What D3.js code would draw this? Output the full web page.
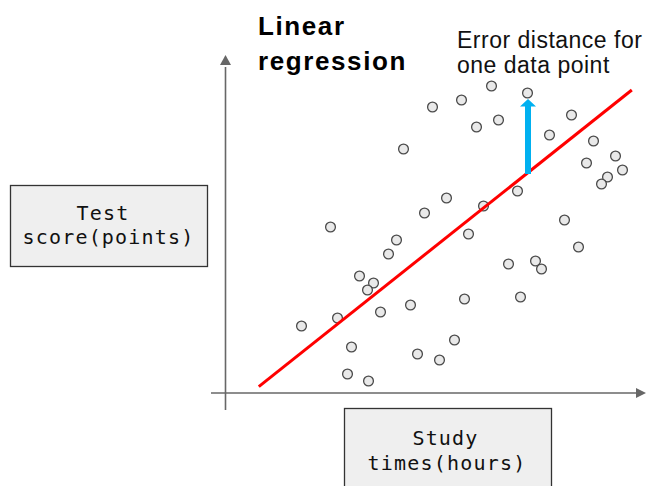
<!DOCTYPE html>
<html>
<head>
<meta charset="utf-8">
<script src="https://cdn.jsdelivr.net/npm/d3@7"></script>
<style>
  html, body { margin: 0; padding: 0; background: #fff; }
  svg { display: block; }
</style>
</head>
<body>
<svg id="chart" width="646" height="486"></svg>
<script>
// ---- data (study hours vs test score, arbitrary units) ----
const studyHours = [26.6, 30.2, 23.6, 20.7, 27.3, 25.1, 34.6, 32.4, 36.8, 17.8,
  39.0, 36.1, 39.7, 38.2, 37.6, 29.2, 22.1, 19.9, 25.8, 10.5,
  17.1, 16.3, 24.3, 33.9, 35.3, 28.3, 31.0, 31.6, 13.4, 14.8,
  14.2, 23.9, 29.5, 18.5, 15.5, 11.2, 7.6, 12.6, 22.9, 19.2,
  21.4, 12.2, 14.3];
const testScores = [30.7, 30.0, 29.3, 28.6, 27.3, 26.6, 27.8, 25.8, 25.2, 24.4,
  23.7, 23.0, 22.3, 21.6, 20.9, 20.2, 19.5, 18.0, 18.7, 16.6,
  15.3, 13.9, 15.9, 17.3, 14.6, 12.9, 13.2, 12.4, 11.7, 11.0,
  10.3, 9.4, 9.6, 8.8, 8.1, 7.5, 6.7, 4.6, 5.3, 3.9,
  3.3, 1.9, 1.2];
const regressionX = [3.33, 40.63];
const regressionY = [0.63, 30.3];
const errorPointIndex = 1;
const errorArrowTop = 29.4;
const titleLines = ["Linear", "regression"];
const noteLines = ["Error distance for", "one data point"];
const yLabelLines = ["Test", "score(points)"];
const xLabelLines = ["Study", "times(hours)"];

// ---- scales ----
const x = d3.scaleLinear().domain([0, 42]).range([225.5, 645.5]);
const y = d3.scaleLinear().domain([0, 34]).range([393, 53]);

const svg = d3.select("#chart");
const axisColor = "#676767";

// axes (no ticks)
svg.append("line")
  .attr("x1", x(-1.45)).attr("x2", x(41.1))
  .attr("y1", y(0)).attr("y2", y(0))
  .attr("stroke", axisColor).attr("stroke-width", 1.6);
svg.append("path")
  .attr("d", `M${x(42.05)},${y(0)} L${x(41.05)},${y(0) - 5} L${x(41.05)},${y(0) + 5} Z`)
  .attr("fill", axisColor);

svg.append("line")
  .attr("x1", x(0)).attr("x2", x(0))
  .attr("y1", y(-1.7)).attr("y2", y(32.6))
  .attr("stroke", axisColor).attr("stroke-width", 1.6);
svg.append("path")
  .attr("d", `M${x(0)},${y(33.8)} L${x(0) - 5.5},${y(32.8)} L${x(0) + 5.5},${y(32.8)} Z`)
  .attr("fill", axisColor);

// points
const pts = studyHours.map((h, i) => ({ h, s: testScores[i] }));
svg.append("g").selectAll("circle").data(pts).enter().append("circle")
  .attr("cx", d => x(d.h)).attr("cy", d => y(d.s))
  .attr("r", 4.9)
  .attr("fill", "#e9e9e9")
  .attr("stroke", "#4a4a4a")
  .attr("stroke-width", 1.3);

// regression line
const line = d3.line().x(d => x(d[0])).y(d => y(d[1]));
svg.append("path")
  .datum(regressionX.map((v, i) => [v, regressionY[i]]))
  .attr("d", line)
  .attr("fill", "none")
  .attr("stroke", "#ff0000")
  .attr("stroke-width", 3);

// error arrow
const ex = studyHours[errorPointIndex];
const slope = (regressionY[1] - regressionY[0]) / (regressionX[1] - regressionX[0]);
const lineY = regressionY[0] + slope * (ex - regressionX[0]);
const ax = x(ex) + 0.5;
const yBottom = y(lineY) + 1;
const yTip = y(errorArrowTop);
svg.append("path")
  .attr("d", `M${ax - 3},${yBottom} L${ax - 3},${yTip + 7.5} L${ax - 8},${yTip + 7.5} L${ax},${yTip} L${ax + 8},${yTip + 7.5} L${ax + 3},${yTip + 7.5} L${ax + 3},${yBottom} Z`)
  .attr("fill", "#00b0f0");

// title
const title = svg.append("text")
  .attr("font-family", "'Liberation Sans', Arial, sans-serif")
  .attr("font-weight", "bold")
  .attr("font-size", 26)
  .attr("letter-spacing", 1.6)
  .attr("fill", "#000");
title.selectAll("tspan").data(titleLines).enter().append("tspan")
  .attr("x", 258).attr("y", (d, i) => 35 + i * 34.5)
  .text(d => d);

// note
const note = svg.append("text")
  .attr("font-family", "'Liberation Sans', Arial, sans-serif")
  .attr("font-size", 23)
  .attr("letter-spacing", 0.5)
  .attr("fill", "#111");
note.selectAll("tspan").data(noteLines).enter().append("tspan")
  .attr("x", 457).attr("y", (d, i) => 47.5 + i * 25.5)
  .text(d => d);

// label boxes
function labelBox(bx, by, bw, bh, lines, cxs, baseY, lh) {
  svg.append("rect")
    .attr("x", bx).attr("y", by).attr("width", bw).attr("height", bh)
    .attr("fill", "#efefef").attr("stroke", "#333").attr("stroke-width", 1.3);
  const t = svg.append("text")
    .attr("font-family", "'DejaVu Sans Mono', monospace")
    .attr("font-size", 20)
    .attr("letter-spacing", 1.2)
    .attr("text-anchor", "middle")
    .attr("fill", "#111");
  t.selectAll("tspan").data(lines).enter().append("tspan")
    .attr("x", (d, i) => cxs[i]).attr("y", (d, i) => baseY + i * lh)
    .text(d => d);
}
labelBox(10.5, 185.5, 197, 81, yLabelLines, [103, 108.5], 219.5, 24.5);
labelBox(344.5, 408.5, 207, 90, xLabelLines, [445.5, 447], 445, 25);
</script>
</body>
</html>
